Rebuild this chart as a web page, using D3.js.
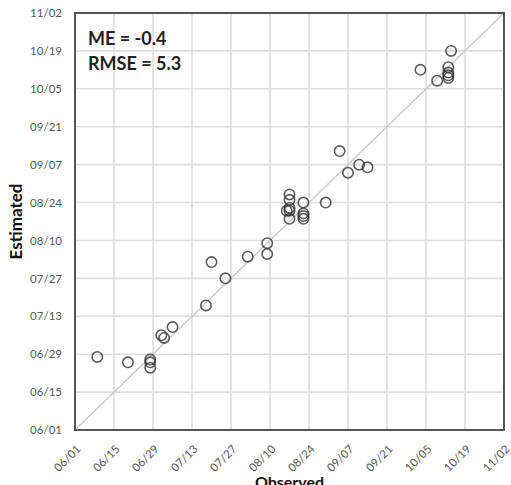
<!DOCTYPE html>
<html>
<head>
<meta charset="utf-8">
<script src="https://cdn.jsdelivr.net/npm/d3@7"></script>
<style>
  body { margin: 0; background: #fff; }
  svg text { font-family: Lato, "Open Sans", sans-serif; }
</style>
</head>
<body>
<div id="chart"></div>
<script>
// observed vs estimated dates (MM/DD)
var observed = ["06/09","06/20","06/28","06/28","06/28","07/02","07/03","07/06","07/18","07/25",
  "07/20","08/02","08/09","08/09","08/17","08/17","08/17","08/17","08/16","08/17",
  "08/22","08/22","08/22","08/22","08/30","09/04","09/07","09/11","09/14","10/03",
  "10/09","10/13","10/13","10/13","10/13","10/14"];
var estimated = ["06/28","06/26","06/27","06/26","06/24","07/06","07/05","07/09","07/17","07/27",
  "08/02","08/04","08/09","08/05","08/27","08/25","08/22","08/21","08/21","08/18",
  "08/24","08/20","08/19","08/18","08/24","09/12","09/04","09/07","09/06","10/12",
  "10/08","10/13","10/11","10/10","10/09","10/19"];
var tickLabels = ["06/01","06/15","06/29","07/13","07/27","08/10","08/24","09/07","09/21","10/05","10/19","11/02"];
var stats = ["ME = -0.4", "RMSE = 5.3"];

var parse = d3.timeParse("%Y/%m/%d");
var toDate = s => parse("2017/" + s);

var margin = {top: 13, right: 7, bottom: 55, left: 75},
    width = 511 - margin.left - margin.right,
    height = 485 - margin.top - margin.bottom;

var svg = d3.select("#chart")
  .append("svg")
  .attr("width", 511)
  .attr("height", 485)
  .append("g")
  .attr("transform", "translate(" + margin.left + "," + margin.top + ")");

var ticks = tickLabels.map(toDate);
var domain = [ticks[0], ticks[ticks.length - 1]];

var x = d3.scaleTime().domain(domain).range([0, width]);
var y = d3.scaleTime().domain(domain).range([height, 0]);

// grid
svg.append("g")
  .selectAll("line")
  .data(ticks)
  .join("line")
  .attr("x1", d => x(d)).attr("x2", d => x(d))
  .attr("y1", 0).attr("y2", height)
  .attr("stroke", "#dedede").attr("stroke-width", 1.6);

svg.append("g")
  .selectAll("line")
  .data(ticks)
  .join("line")
  .attr("y1", d => y(d)).attr("y2", d => y(d))
  .attr("x1", 0).attr("x2", width)
  .attr("stroke", "#dedede").attr("stroke-width", 1.6);

// 1:1 line
svg.append("line")
  .attr("x1", x(domain[0])).attr("y1", y(domain[0]))
  .attr("x2", x(domain[1])).attr("y2", y(domain[1]))
  .attr("stroke", "#c8c8c8").attr("stroke-width", 1.3);

// axes
var fmt = d3.timeFormat("%m/%d");
var yAxis = svg.append("g")
  .call(d3.axisLeft(y).tickValues(ticks).tickFormat(fmt).tickSize(0).tickPadding(13));
yAxis.select(".domain").remove();
yAxis.selectAll("text")
  .attr("fill", "#595959")
  .style("font-size", "11.5px");

var xAxis = svg.append("g")
  .attr("transform", "translate(0," + height + ")")
  .call(d3.axisBottom(x).tickValues(ticks).tickFormat(fmt).tickSize(0).tickPadding(0));
xAxis.select(".domain").remove();
xAxis.selectAll("text")
  .attr("fill", "#595959")
  .style("font-size", "11.5px")
  .attr("text-anchor", "end")
  .attr("dy", "0.35em")
  .attr("transform", "translate(3,17) rotate(-45)");

// border
svg.append("rect")
  .attr("width", width).attr("height", height)
  .attr("fill", "none")
  .attr("stroke", "#555").attr("stroke-width", 2);

// points
svg.append("g")
  .selectAll("circle")
  .data(observed.map((o, i) => [toDate(o), toDate(estimated[i])]))
  .join("circle")
  .attr("cx", d => x(d[0]))
  .attr("cy", d => y(d[1]))
  .attr("r", 5.2)
  .attr("fill", "none")
  .attr("stroke", "#333")
  .attr("stroke-opacity", 0.8)
  .attr("stroke-width", 1.6);

// stats
svg.append("g")
  .selectAll("text")
  .data(stats)
  .join("text")
  .attr("x", 13)
  .attr("y", (d, i) => 32 + i * 25)
  .attr("fill", "#222")
  .style("font-size", "18px")
  .style("font-weight", "bold")
  .text(d => d);

// axis titles
svg.append("text")
  .attr("text-anchor", "middle")
  .attr("x", width / 2)
  .attr("y", height + 58)
  .attr("fill", "#111")
  .style("font-size", "16px")
  .style("font-weight", "bold")
  .text("Observed");

svg.append("g")
  .attr("transform", "translate(-53," + height / 2 + ")")
  .append("text")
  .attr("text-anchor", "middle")
  .attr("transform", "rotate(-90)")
  .attr("fill", "#111")
  .style("font-size", "17px")
  .style("font-weight", "bold")
  .text("Estimated");
</script>
</body>
</html>
